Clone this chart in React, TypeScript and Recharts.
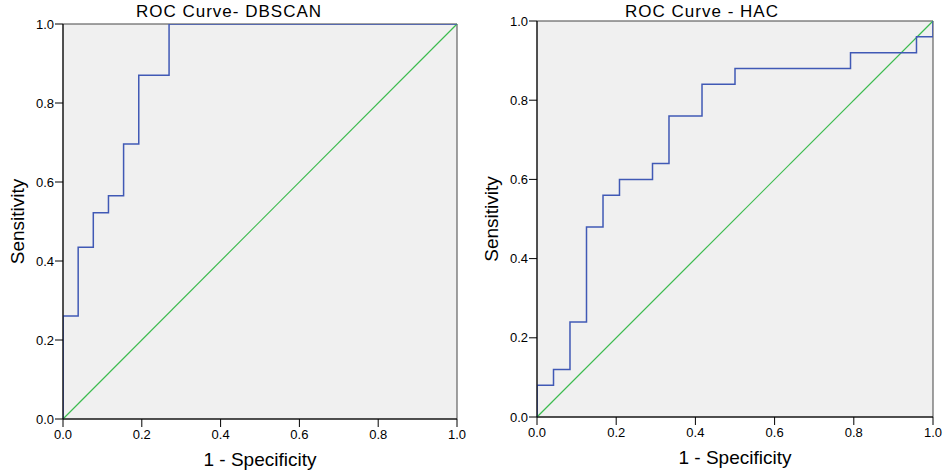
import React from "react"
import { LineChart, Line, XAxis, YAxis, CartesianGrid, ReferenceArea, ReferenceLine, Label } from "recharts"

// ROC points (1 - specificity, sensitivity)
const dbscanFpr = [0, 0, 0.0385, 0.0769, 0.1154, 0.1538, 0.1923, 0.2692, 1]
const dbscanTpr = [0, 0.261, 0.435, 0.522, 0.565, 0.696, 0.87, 1, 1]

const hacFpr = [0, 0, 0.0417, 0.0833, 0.125, 0.1667, 0.2083, 0.2917, 0.3333, 0.4167, 0.5, 0.7917, 0.9583, 1]
const hacTpr = [0, 0.08, 0.12, 0.24, 0.48, 0.56, 0.6, 0.64, 0.76, 0.84, 0.88, 0.92, 0.96, 1]

// reference (chance) diagonal
const refFpr = [0, 1]
const refTpr = [0, 1]

const ticks = [0, 0.2, 0.4, 0.6, 0.8, 1]
const titles = ["ROC Curve- DBSCAN", "ROC Curve - HAC"]
const xTitle = "1 - Specificity"
const yTitle = "Sensitivity"

const toPoints = (xs: number[], ys: number[]) => xs.map((x, i) => ({ x, y: ys[i] }))

const FONT = "'Liberation Sans', Arial, Helvetica, sans-serif"
const tickStyle = { fontSize: 13, fill: "#000", fontFamily: FONT }

interface RocPanelProps {
  left: number
  width: number
  top: number
  bottom: number
  fpr: number[]
  tpr: number[]
}

const RocPanel = ({ left, width, top, bottom, fpr, tpr }: RocPanelProps) => {
  const curve = toPoints(fpr, tpr)
  const diag = toPoints(refFpr, refTpr)
  return (
    <div style={{ position: "absolute", left, top: 0 }}>
      <LineChart width={width} height={475} data={curve} margin={{ top, right: 13, bottom, left: 0 }}>
        <CartesianGrid fill="#f0f0f0" horizontal={false} vertical={false} />
        <ReferenceArea x1={0} x2={1} y1={0} y2={1} fill="none" stroke="#444" strokeWidth={1} />
        <XAxis
          type="number"
          dataKey="x"
          domain={[0, 1]}
          ticks={ticks}
          tickFormatter={(v: number) => v.toFixed(1)}
          tick={tickStyle}
          tickSize={8}
          tickMargin={3}
          height={30}
          stroke="#000"
          allowDataOverflow
        >
          <Label value={xTitle} position="bottom" offset={4} style={{ fontSize: 19, fill: "#000", fontFamily: FONT }} />
        </XAxis>
        <YAxis
          type="number"
          domain={[0, 1]}
          ticks={ticks}
          tickFormatter={(v: number) => v.toFixed(1)}
          tick={tickStyle}
          tickSize={8}
          tickMargin={1}
          width={63}
          stroke="#000"
          allowDataOverflow
        >
          <Label
            value={yTitle}
            angle={-90}
            position="insideLeft"
            offset={17}
            textAnchor="middle"
            style={{ fontSize: 19, fill: "#000", fontFamily: FONT, textAnchor: "middle" }}
          />
        </YAxis>
        <ReferenceLine
          segment={[diag[0], diag[1]]}
          stroke="#3cbb4f"
          strokeWidth={1.2}
          ifOverflow="visible"
        />
        <Line dataKey="y" type="stepAfter" stroke="#4059b5" strokeWidth={1.5} dot={false} activeDot={false} isAnimationActive={false} />
      </LineChart>
    </div>
  )
}

export default function App() {
  return (
    <div style={{ position: "absolute", left: 0, top: 0, width: 946, height: 475, background: "#fff" }}>
      <RocPanel left={0} width={470} top={24} bottom={26} fpr={dbscanFpr} tpr={dbscanTpr} />
      <RocPanel left={474} width={472} top={21} bottom={28} fpr={hacFpr} tpr={hacTpr} />
      <svg width={946} height={30} style={{ position: "absolute", left: 0, top: 0, pointerEvents: "none" }}>
        <text x={229} y={17} textAnchor="middle" fontSize={17} letterSpacing={1} fontFamily={FONT} fill="#000">
          {titles[0]}
        </text>
        <text x={702} y={17} textAnchor="middle" fontSize={17} letterSpacing={1} fontFamily={FONT} fill="#000">
          {titles[1]}
        </text>
      </svg>
    </div>
  )
}
